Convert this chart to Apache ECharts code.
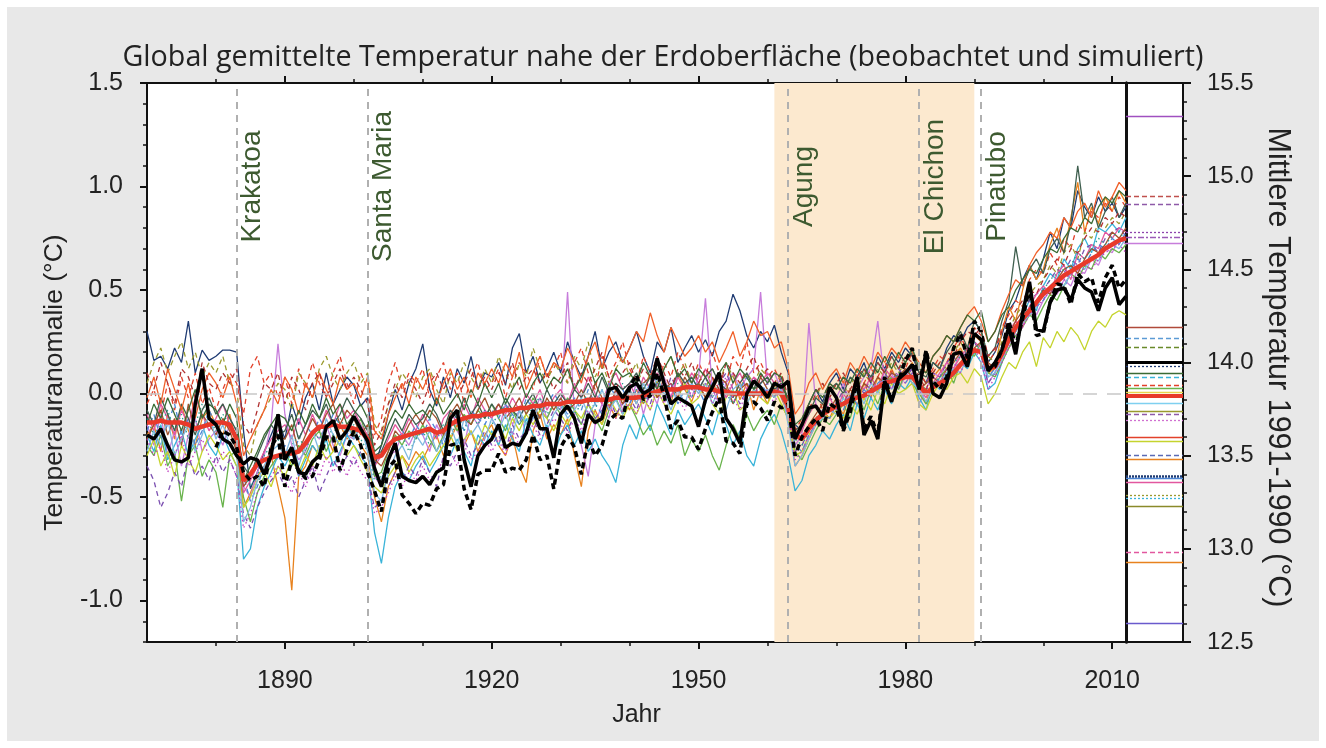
<!DOCTYPE html>
<html><head><meta charset="utf-8">
<script src="https://cdn.jsdelivr.net/npm/echarts@6.0.0/dist/echarts.min.js"></script>
<style>
html,body{margin:0;padding:0;background:#fff;width:1326px;height:748px;overflow:hidden}
#bg{position:absolute;left:7px;top:7px;width:1312px;height:734px;background:#e8e8e8}
#chart{position:absolute;left:0;top:0;width:1326px;height:748px}
</style></head><body><div id="bg"></div><div id="chart"></div>
<script>
// ---------------- DATA ----------------
const startYear = 1870;   // annual values 1870..2012
const xMajorTicks = [1890, 1920, 1950, 1980, 2010];
const xMinorTicks = [1880, 1900, 1910, 1930, 1940, 1960, 1970, 1990, 2000];
const yLeftTicks = [-1.0, -0.5, 0.0, 0.5, 1.0, 1.5];
const volcanoNames = ['Krakatoa', 'Santa Maria', 'Agung', 'El Chichon', 'Pinatubo'];
const volcanoYears = [1883, 1902, 1963, 1982, 1991];
const refPeriod = [1961, 1990];

const modelMean = [
-.14,-.14,-.13,-.14,-.14,-.14,-.15,-.17,-.16,-.15,
-.14,-.14,-.15,-.22,-.42,-.39,-.34,-.32,-.31,-.30,
-.29,-.29,-.28,-.24,-.19,-.16,-.16,-.15,-.16,-.16,
-.17,-.18,-.22,-.31,-.30,-.25,-.22,-.21,-.20,-.19,
-.18,-.17,-.19,-.18,-.15,-.13,-.12,-.11,-.11,-.10,
-.10,-.09,-.08,-.08,-.07,-.07,-.06,-.06,-.05,-.05,
-.05,-.04,-.04,-.04,-.03,-.03,-.03,-.03,-.02,-.02,
-.02,-.02,-.01,0,.01,.02,.02,.02,.03,.03,
.03,.02,.02,.01,.01,0,0,0,0,0,
0,.01,0,-.06,-.20,-.22,-.17,-.13,-.10,-.08,
-.06,-.05,-.03,-.02,-.01,.01,.03,.05,.06,.07,
.08,.08,.04,0,.03,.05,.07,.10,.14,.18,
.21,.20,.12,.13,.19,.26,.32,.36,.40,.44,
.48,.51,.54,.57,.59,.61,.63,.65,.67,.70,
.72,.74,.75];

const obsSolid = [
-.20,-.22,-.17,-.25,-.32,-.33,-.31,-.05,.12,-.12,
-.15,-.22,-.24,-.30,-.34,-.31,-.32,-.39,-.30,-.10,
-.32,-.26,-.38,-.39,-.33,-.30,-.16,-.13,-.22,-.18,
-.11,-.17,-.23,-.36,-.45,-.32,-.24,-.40,-.42,-.43,
-.40,-.44,-.38,-.36,-.12,-.08,-.32,-.45,-.30,-.25,
-.22,-.15,-.26,-.24,-.25,-.19,-.08,-.17,-.17,-.31,
-.10,-.06,-.12,-.24,-.10,-.14,-.12,.02,.03,-.02,
.03,.05,0,.02,.17,.05,-.05,-.02,-.04,-.06,
-.16,-.03,.03,.10,-.12,-.17,-.24,0,.06,.03,
-.02,.05,.03,.06,-.22,-.15,-.07,-.06,-.11,.03,
-.02,-.17,-.05,.08,-.20,-.13,-.22,.06,-.04,.07,
.10,.14,.02,.20,0,-.02,.05,.19,.20,.13,
.29,.26,.11,.15,.21,.32,.19,.39,.54,.31,
.30,.44,.50,.51,.45,.55,.51,.49,.40,.51,
.56,.43,.47];

const obsDashed = [
null,null,null,null,null,null,null,null,null,null,
-.26,-.18,-.20,-.26,-.38,-.42,-.40,-.45,-.26,-.20,
-.45,-.32,-.37,-.41,-.40,-.32,-.21,-.21,-.37,-.27,
-.18,-.25,-.38,-.47,-.57,-.36,-.32,-.49,-.53,-.58,
-.53,-.54,-.46,-.44,-.25,-.24,-.46,-.56,-.39,-.37,
-.37,-.29,-.38,-.36,-.37,-.32,-.20,-.32,-.30,-.46,
-.26,-.20,-.26,-.39,-.22,-.30,-.25,-.13,-.10,-.12,
.03,.09,-.03,-.01,.10,-.01,-.17,-.13,-.21,-.21,
-.27,-.17,-.09,-.02,-.23,-.24,-.29,-.05,-.04,-.07,
-.13,-.04,-.07,-.05,-.30,-.21,-.16,-.12,-.18,-.05,
-.07,-.18,-.09,.06,-.17,-.11,-.20,.08,-.03,.06,
.16,.22,.04,.21,.06,.02,.08,.22,.29,.17,
.35,.30,.12,.13,.21,.35,.23,.36,.51,.28,
.29,.44,.53,.52,.43,.58,.54,.56,.44,.56,
.62,.51,.55];

const model01 = [
.30,.16,.18,.12,.22,.15,.35,.10,.21,.16,
.18,.21,.21,.20,-.18,-.46,-.38,-.28,-.20,-.12,
-.22,-.05,-.15,-.02,.05,-.08,.10,-.05,.02,.08,
.04,-.06,-.02,-.35,-.25,-.10,.02,-.08,.05,.12,
.24,.02,-.06,.08,-.02,.12,.05,.18,.02,.10,
.08,.15,.04,.22,.29,.10,.18,.05,.12,.20,
.10,.25,.15,.08,.18,.30,.12,.20,.25,.15,
.22,.30,.18,.10,.25,.20,.32,.15,.22,.28,
.20,.26,.18,.30,.35,.48,.40,.28,.22,.30,
.25,.33,.20,.10,-.15,-.18,-.05,.02,-.04,.05,
.10,.02,.12,.08,.15,.05,.18,.12,.20,.15,
.22,.18,.10,.05,.15,.12,.22,.28,.25,.32,
.35,.30,.15,.20,.28,.40,.45,.55,.62,.55,
.65,.78,.70,.85,.80,.98,.90,.85,.95,.88,
.92,.85,.90];
const model02 = [
-.20,-.15,-.28,-.10,-.22,-.05,-.18,-.25,-.12,-.08,
-.15,-.20,-.10,-.25,-.55,-.48,-.40,-.35,-.30,-.45,
-.60,-.95,-.40,-.35,-.25,-.30,-.20,-.28,-.15,-.22,
-.18,-.25,-.30,-.50,-.62,-.45,-.38,-.30,-.35,-.28,
-.32,-.25,-.20,-.30,-.22,-.15,-.25,-.18,-.28,-.20,
-.15,-.25,-.30,-.20,-.35,-.43,-.18,-.10,-.22,-.15,
-.20,-.12,-.30,-.45,-.18,-.08,-.15,-.05,-.12,-.02,
-.08,.02,-.05,.05,-.02,.08,-.05,.10,.02,-.04,
.05,-.02,.08,-.05,.02,.10,-.03,.05,-.08,.02,
-.05,.05,-.02,-.10,-.35,-.30,-.22,-.15,-.08,-.12,
-.05,-.10,0,-.06,.05,-.02,.08,.02,.12,.05,
.10,.15,.02,-.05,.08,.12,.05,.18,.22,.15,
.28,.25,.10,.12,.30,.42,.35,.50,.62,.55,
.60,.72,.80,.68,.85,1.02,.78,.90,.82,.95,
.88,.98,.92];
const model03 = [
-.05,.02,-.10,.05,-.08,.08,-.02,.10,-.05,.03,
-.08,.02,.10,.05,-.10,.12,.18,.05,.10,-.02,
.08,-.05,.12,.02,.15,.05,-.02,.10,.18,.05,
-.05,.10,.02,-.20,-.12,.05,.15,.02,.10,.05,
.12,-.02,.08,.15,.02,.10,-.05,.08,.15,.02,
.05,.12,-.02,.08,.15,.10,.02,.18,.08,.12,
.20,.05,.15,.22,.10,.02,.18,.08,.15,.25,
.12,.05,.18,.10,.02,.15,.08,.20,.12,.05,
.15,.08,.20,.10,.05,.18,.12,.25,.10,.15,
.08,.12,.05,-.08,-.18,-.12,-.05,.02,-.08,.05,
.02,.08,-.02,.10,.05,.12,.08,.15,.10,.18,
.12,.20,.10,.05,.12,.18,.15,.22,.28,.20,
.32,.28,.15,.20,.32,.38,.45,.42,.55,.60,
.58,.68,.62,.75,.70,.82,.78,.88,.85,.92,
.88,.95,.90];
const model04 = [
-.15,-.25,-.10,-.30,-.18,-.35,-.20,-.12,-.28,-.22,
-.18,-.25,-.15,-.20,-.45,-.50,-.38,-.30,-.15,.24,
-.10,-.25,-.32,-.28,-.18,-.22,-.15,-.25,-.30,-.20,
-.22,-.15,-.25,-.40,-.45,-.30,-.28,-.20,-.25,-.18,
-.20,-.28,-.15,-.22,-.12,-.18,-.25,-.10,-.15,-.08,
-.12,-.18,-.05,-.15,-.08,-.20,-.10,-.02,-.12,-.05,
-.08,.49,-.10,-.25,-.40,-.15,-.05,-.12,.02,-.08,
-.05,.05,-.10,.02,-.05,.08,-.02,.10,.05,-.02,
.08,.46,.02,-.05,.05,.10,.02,.08,.12,.49,
.05,.10,.02,-.08,-.25,-.20,.34,-.05,-.10,.02,
-.02,.05,-.05,.02,.08,.12,.35,.05,.10,.02,
.08,.12,-.05,.02,.10,.08,.15,.12,.20,.18,
.25,.20,.05,.10,.18,.22,.30,.35,.42,.38,
.45,.50,.48,.55,.52,.60,.58,.65,.62,.70,
.68,.75,.72];
const model05 = [
-.20,-.28,-.15,-.32,-.25,-.18,-.30,-.22,-.15,-.25,
-.30,-.20,-.28,-.35,-.80,-.75,-.55,-.45,-.38,-.30,
-.35,-.28,-.40,-.32,-.25,-.30,-.22,-.35,-.28,-.20,
-.25,-.30,-.35,-.67,-.82,-.60,-.45,-.38,-.42,-.35,
-.30,-.38,-.32,-.25,-.30,-.22,-.28,-.35,-.20,-.25,
-.18,-.25,-.15,-.22,-.28,-.12,-.20,-.25,-.15,-.30,
-.20,-.15,-.25,-.18,-.28,-.22,-.30,-.35,-.43,-.25,
-.15,-.22,-.10,-.18,-.05,-.12,-.20,-.08,-.15,-.10,
-.05,-.12,-.20,-.08,-.15,-.25,-.18,-.30,-.35,-.22,
-.15,-.10,-.18,-.30,-.47,-.42,-.30,-.25,-.18,-.22,
-.15,-.10,-.18,-.05,-.12,-.02,-.08,.02,-.05,.05,
.02,.08,-.02,-.08,.05,.02,.10,.08,.15,.12,
.20,.15,.02,.05,.15,.25,.30,.38,.45,.40,
.52,.58,.55,.65,.60,.70,.75,.68,.80,.78,
.82,.78,.85];
const model06 = [
-.25,-.30,-.20,-.35,-.28,-.52,-.30,-.25,-.40,-.32,
-.38,-.55,-.30,-.28,-.50,-.62,-.48,-.40,-.35,-.30,
-.28,-.35,-.25,-.30,-.22,-.18,-.28,-.20,-.25,-.15,
-.20,-.12,-.22,-.40,-.38,-.28,-.20,-.25,-.18,-.22,
-.15,-.22,-.28,-.20,-.12,-.18,-.10,-.15,-.08,-.12,
-.05,-.12,-.18,-.08,-.15,-.10,-.02,-.08,-.12,-.05,
-.10,-.02,-.08,-.15,-.05,-.12,-.18,-.08,-.02,-.10,
-.05,-.12,-.20,-.15,-.25,-.18,-.24,-.15,-.30,-.22,
-.28,-.20,-.30,-.37,-.25,-.15,-.22,-.10,-.18,-.12,
-.08,-.15,-.05,-.12,-.28,-.32,-.25,-.18,-.12,-.15,
-.10,-.05,-.12,0,-.08,.02,-.05,.05,.08,.02,
.10,.05,0,-.05,.02,.08,.12,.05,.15,.20,
.18,.25,.10,.08,.15,.22,.28,.32,.38,.35,
.42,.48,.45,.52,.58,.55,.62,.60,.68,.65,
.70,.68,.72];
const model07 = [
-.30,-.22,-.35,-.28,-.40,-.25,-.32,-.38,-.28,-.20,
-.25,-.32,-.28,-.35,-.55,-.50,-.42,-.38,-.45,-.35,
-.40,-.32,-.38,-.30,-.35,-.25,-.32,-.28,-.22,-.30,
-.25,-.32,-.38,-.45,-.48,-.40,-.35,-.30,-.38,-.32,
-.28,-.35,-.30,-.25,-.20,-.28,-.22,-.18,-.25,-.15,
-.20,-.15,-.22,-.12,-.18,-.10,-.15,-.08,-.12,-.18,
-.10,-.15,-.08,-.12,-.05,-.10,-.15,-.02,-.08,-.12,
-.05,-.10,-.02,-.08,.02,-.05,-.10,-.02,.05,-.05,
-.02,.05,-.05,-.10,-.02,.02,-.08,-.05,.02,-.02,
-.05,.02,-.05,-.12,-.30,-.28,-.20,-.15,-.10,-.12,
-.08,-.12,-.05,-.10,-.02,-.08,.02,-.05,.05,0,
.02,.05,-.05,-.08,0,.05,.02,.08,.10,.05,
.12,.08,-.05,0,.08,.15,.12,.20,.25,.13,
.27,.22,.30,.25,.32,.28,.21,.30,.35,.32,
.38,.40,.38];
const model08 = [
.05,.15,.22,.10,.18,.25,.12,.20,.08,.15,
.10,.18,.05,.02,-.25,-.30,-.15,-.08,-.02,.05,
.02,-.08,.10,.05,-.02,.12,.18,.08,.02,.10,
.15,.05,.10,-.15,-.20,-.05,.02,.10,.05,-.02,
.08,.12,.02,-.05,.10,.05,.15,.08,.02,.12,
.05,.18,.10,.02,.15,.08,.22,.12,.05,.15,
.10,.05,.18,.12,.25,.08,.15,.05,.12,.18,
.08,.15,.02,.10,.05,.12,.18,.08,.15,.05,
.10,.02,.12,.05,.15,.08,.02,.10,.05,.12,
.08,.02,.10,-.05,-.22,-.18,-.08,-.02,.05,-.02,
.05,-.02,.08,.02,.10,.05,.12,.08,.15,.10,
.15,.12,.05,.02,.10,.15,.12,.20,.25,.18,
.28,.30,.18,.15,.25,.30,.38,.42,.48,.52,
.55,.62,.58,.68,.72,.65,.78,.75,.82,.80,
.85,.82,.88];
const model09 = [
-.35,-.42,-.55,-.48,-.38,-.45,-.30,-.40,-.35,-.42,
-.30,-.38,-.32,-.40,-.58,-.65,-.55,-.48,-.42,-.38,
-.45,-.40,-.50,-.42,-.35,-.48,-.40,-.32,-.38,-.30,
-.35,-.28,-.40,-.55,-.52,-.45,-.38,-.42,-.35,-.40,
-.32,-.38,-.45,-.30,-.35,-.28,-.22,-.30,-.25,-.18,
-.25,-.20,-.28,-.15,-.22,-.18,-.12,-.20,-.15,-.08,
-.12,-.18,-.10,-.15,-.05,-.12,-.08,-.02,-.10,-.05,
-.02,-.08,.02,-.05,.05,-.02,.08,.02,-.05,.05,
.02,.08,-.02,.05,.10,.02,-.05,.02,.08,.02,
.05,-.02,.08,-.10,-.28,-.25,-.18,-.12,-.08,-.02,
-.05,.02,-.02,.05,0,.08,.02,.10,.05,.12,
.08,.12,.02,.05,.10,.08,.15,.18,.12,.22,
.25,.18,.05,.10,.20,.28,.32,.38,.45,.48,
.50,.55,.60,.58,.65,.62,.70,.72,.68,.75,
.78,.80,.76];
const model10 = [
-.10,-.18,-.05,-.12,-.20,-.08,-.15,-.02,-.10,-.18,
-.12,-.05,-.15,-.22,-.48,-.42,-.35,-.28,-.22,-.18,
-.15,-.22,-.12,-.20,-.10,-.18,-.08,-.15,-.05,-.12,
-.08,-.15,-.20,-.35,-.30,-.22,-.15,-.20,-.12,-.18,
-.10,-.15,-.22,-.12,-.08,-.15,-.05,-.12,-.02,-.08,
-.12,-.05,-.10,-.02,-.08,0,-.05,.02,-.08,-.02,
.02,-.05,.05,-.02,.08,0,-.05,.05,.10,.02,
.05,-.02,.08,.02,.10,.05,-.02,.08,.02,.10,
.05,.12,.02,.08,-.02,.05,.10,.02,.08,.05,
.10,.05,.02,-.05,-.22,-.18,-.10,-.05,-.12,-.02,
-.08,0,-.05,.05,.02,.08,.02,.12,.08,.05,
.12,.08,.02,-.02,.05,.10,.15,.12,.18,.22,
.25,.22,.12,.15,.22,.30,.35,.32,.42,.48,
.52,.48,.58,.62,.55,.68,.65,.72,.70,.78,
.75,.80,.78];
const model11 = [
-.18,-.10,-.22,-.15,-.05,-.20,-.12,-.25,-.18,-.08,
-.15,-.22,-.12,-.18,-.40,-.52,-.45,-.35,-.28,-.32,
-.25,-.30,-.22,-.15,-.20,-.12,-.18,-.10,-.15,-.20,
-.12,-.18,-.25,-.38,-.42,-.30,-.25,-.18,-.22,-.15,
-.20,-.12,-.18,-.25,-.15,-.10,-.18,-.08,-.12,-.15,
-.08,-.12,-.05,-.10,-.15,-.02,-.08,-.12,-.05,0,
-.05,-.10,-.02,-.08,.02,-.05,-.10,.05,-.02,.02,
-.05,.02,-.02,.05,.08,-.02,.05,-.05,.02,.08,
.02,-.05,.05,.08,.02,-.05,.02,.08,-.02,.05,
0,.05,-.02,-.08,-.25,-.28,-.20,-.15,-.10,-.12,
-.05,-.08,0,-.05,.02,-.02,.05,.08,.02,.10,
.05,.10,.05,0,.02,.08,.05,.12,.15,.20,
.22,.18,.08,.12,.18,.25,.30,.35,.38,.42,
.45,.52,.55,.50,.60,.65,.62,.68,.72,.70,
.75,.72,.78];
const model12 = [
-.22,-.15,-.08,-.20,-.12,-.25,-.05,-.18,-.10,-.15,
-.20,-.12,-.18,-.28,-.45,-.40,-.32,-.38,-.25,-.20,
-.22,-.15,-.28,-.20,-.12,-.18,-.10,-.05,-.15,-.08,
-.12,-.20,-.15,-.32,-.35,-.28,-.18,-.22,-.15,-.10,
-.15,-.08,-.12,-.20,-.10,-.05,-.12,-.15,-.08,-.02,
-.10,-.05,-.12,-.08,-.02,-.10,-.05,-.12,-.02,-.08,
-.02,-.08,-.05,.02,-.05,.05,-.02,-.08,.02,-.05,
.02,-.05,.05,.08,-.02,.02,.05,-.02,.08,.02,
.05,-.02,.02,.08,.05,-.05,.02,.05,-.02,.08,
.02,-.02,.05,-.05,-.18,-.22,-.15,-.10,-.05,-.08,
-.02,-.05,.02,-.02,.05,.02,.08,.05,.10,.08,
.12,.08,.02,.05,.08,.05,.12,.15,.20,.15,
.22,.25,.15,.12,.20,.28,.35,.40,.38,.45,
.50,.48,.55,.60,.62,.58,.65,.70,.68,.72,
.78,.75,.80];
const model13 = [
-.12,-.20,-.15,-.08,-.18,-.10,-.22,-.15,-.05,-.12,
-.18,-.10,-.15,-.20,-.38,-.45,-.40,-.30,-.25,-.22,
-.30,-.25,-.20,-.28,-.18,-.22,-.15,-.20,-.12,-.18,
-.15,-.22,-.28,-.42,-.40,-.32,-.25,-.20,-.28,-.22,
-.18,-.25,-.20,-.15,-.22,-.12,-.18,-.10,-.15,-.08,
-.15,-.10,-.05,-.12,-.08,-.15,-.05,-.02,-.10,-.05,
-.08,-.02,-.10,-.05,0,-.08,.02,-.05,-.02,.05,
-.02,.02,-.05,.02,.05,0,-.03,.05,.02,-.02,
.05,.02,-.02,.05,0,-.05,.02,-.02,.05,.02,
-.02,.05,.02,-.08,-.22,-.25,-.18,-.12,-.08,-.05,
-.08,-.02,-.05,.02,-.02,.05,.02,.08,.05,.10,
.08,.12,.05,.02,.05,.08,.10,.15,.18,.22,
.25,.20,.10,.15,.22,.28,.32,.38,.42,.45,
.50,.55,.58,.60,.62,.68,.65,.70,.75,.72,
.76,.78,.74];
const model14 = [
-.08,-.15,-.02,-.10,-.18,-.05,-.12,-.20,-.08,-.02,
-.10,-.05,-.12,-.18,-.35,-.40,-.30,-.22,-.15,-.20,
-.18,-.10,-.22,-.15,-.08,-.12,-.05,-.15,-.10,-.02,
-.08,-.12,-.18,-.30,-.28,-.20,-.12,-.18,-.10,-.15,
-.12,-.05,-.10,-.18,-.08,-.12,-.02,-.10,-.05,-.12,
-.05,-.10,-.02,-.08,-.12,-.05,0,-.08,.02,-.05,
0,-.05,.02,-.02,.05,-.02,.08,0,.05,.02,
.05,.10,.02,.08,.12,.05,.02,.10,.05,.08,
.02,.08,.12,.05,.02,-.02,.05,.10,.02,.05,
.08,.02,.05,-.02,-.18,-.15,-.10,-.02,-.05,.02,
.05,0,.08,.05,.12,.08,.15,.10,.18,.12,
.15,.20,.10,.08,.15,.12,.20,.25,.30,.22,
.35,.30,.18,.22,.35,.45,.71,.52,.60,.65,
.58,.70,.75,.68,.82,1.10,.85,.92,.80,.88,
.95,.85,.92];
const model15 = [
-.02,.08,-.05,.12,.02,-.08,.05,-.12,.02,.10,
.05,-.02,.08,-.05,-.30,-.22,-.15,-.08,.02,-.05,
.08,.02,-.10,.05,-.02,.10,.02,-.05,.08,.02,
.05,-.02,.08,-.18,-.22,-.10,-.02,.05,-.05,.08,
.02,.10,-.05,.05,.12,.02,.08,-.02,.10,.05,
.12,.05,.15,.08,.20,.02,.10,.18,.08,.15,
.12,.22,.15,.05,.18,.25,.12,.28,.20,.15,
.22,.30,.25,.39,.28,.20,.32,.25,.18,.22,
.28,.20,.25,.15,.22,.30,.18,.25,.35,.28,
.30,.22,.25,.12,-.10,-.05,.05,.10,.02,.08,
.12,.05,.15,.10,.18,.12,.20,.15,.22,.18,
.25,.20,.15,.10,.18,.22,.28,.25,.32,.38,
.42,.35,.25,.30,.40,.48,.55,.52,.62,.68,
.72,.78,.75,.85,.80,.88,.92,.85,.98,.90,
.95,1.02,.98];
const model16 = [
-.28,-.18,-.25,-.12,-.30,-.22,-.15,-.28,-.20,-.10,
-.22,-.15,-.25,-.30,-.62,-.55,-.42,-.35,-.28,-.25,
-.30,-.20,-.35,-.25,-.18,-.28,-.12,-.20,-.25,-.15,
-.22,-.15,-.28,-.48,-.52,-.38,-.30,-.25,-.32,-.20,
-.25,-.18,-.28,-.22,-.15,-.25,-.12,-.20,-.15,-.22,
-.12,-.18,-.10,-.20,-.08,-.15,-.12,-.05,-.18,-.10,
-.05,-.12,-.08,-.02,-.10,-.05,.02,-.08,-.03,-.10,
.02,-.05,.05,-.02,.08,0,-.08,.02,-.05,.05,
0,.05,-.05,.02,-.08,.02,.05,-.05,.02,-.02,
.02,-.02,.02,-.15,-.35,-.30,-.22,-.15,-.12,-.08,
-.10,-.02,-.08,.02,-.05,.05,0,.08,.02,.06,
.10,.05,.02,-.04,.02,.06,.10,.12,.10,.18,
.20,.22,.08,.10,.16,.24,.30,.34,.38,.42,
.48,.50,.55,.52,.58,.62,.60,.66,.64,.70,
.72,.70,.75];
const model17 = [
.10,.02,.15,.05,-.05,.12,.08,-.02,.15,.05,
.02,.10,.05,.12,-.15,-.20,-.08,.05,.02,.10,
-.05,.08,.02,-.08,.05,.10,-.02,.05,.12,.02,
.08,.02,-.05,-.25,-.18,-.05,.05,-.02,.08,.02,
-.05,.05,.10,.02,.08,-.02,.05,.12,.02,.08,
.02,.10,.05,.15,.02,.08,.12,.05,.10,.02,
.08,.15,.02,.10,.05,.12,.20,.08,.02,.10,
.15,.05,.12,.08,.18,.10,.02,.12,.08,.15,
.05,.12,.08,.02,.15,.10,.05,.12,.18,.08,
.12,.05,.10,-.02,-.20,-.15,-.08,0,.05,-.02,
.05,.10,.02,.08,.12,.05,.15,.10,.18,.12,
.18,.15,.08,.02,.10,.15,.20,.18,.25,.30,
.28,.32,.18,.22,.30,.35,.40,.45,.50,.48,
.55,.60,.65,.62,.70,.68,.75,.80,.78,.85,
.82,.88,.85];
const model18 = [
-.22,-.30,-.25,-.38,-.30,-.20,-.35,-.28,-.22,-.30,
-.35,-.28,-.32,-.40,-.65,-.58,-.48,-.42,-.40,-.35,
-.42,-.48,-.38,-.45,-.35,-.40,-.30,-.38,-.32,-.40,
-.30,-.38,-.42,-.58,-.55,-.48,-.40,-.45,-.38,-.42,
-.35,-.42,-.38,-.32,-.28,-.35,-.25,-.32,-.28,-.22,
-.28,-.22,-.30,-.18,-.25,-.20,-.15,-.22,-.18,-.12,
-.15,-.20,-.12,-.18,-.08,-.15,-.10,-.05,-.12,-.08,
-.05,-.10,0,-.08,.02,-.05,.05,-.02,-.08,.02,
-.02,.05,-.05,.02,.08,-.02,-.08,.02,.05,-.02,
.02,-.05,.05,-.12,-.32,-.28,-.20,-.15,-.10,-.05,
-.08,0,-.05,.02,-.02,.05,.02,.08,.02,.10,
.05,.10,0,.02,.08,.05,.12,.15,.10,.18,
.22,.15,.02,.08,.15,.22,.28,.32,.38,.42,
.45,.50,.48,.55,.58,.52,.62,.60,.65,.68,
.70,.72,.68];
const model19 = [
-.15,-.05,-.12,-.02,-.10,-.18,-.08,.02,-.12,-.05,
-.08,-.15,-.05,-.12,-.42,-.35,-.28,-.20,-.15,-.10,
-.12,-.18,-.08,-.15,-.05,-.12,-.02,-.10,-.05,-.15,
-.10,-.05,-.12,-.28,-.25,-.15,-.08,-.12,-.05,-.10,
-.08,-.12,-.02,-.10,-.05,0,-.08,.02,-.05,.05,
-.02,.05,-.05,.02,.08,-.02,.05,.10,.02,.08,
.05,.12,.02,.08,.15,.05,.10,.02,.12,.08,
.10,.05,.15,.08,.02,.12,.18,.08,.12,.05,
.12,.08,.02,.10,.15,.05,.12,.08,.02,.10,
.05,.10,.08,-.05,-.15,-.12,-.05,.02,-.02,.05,
.02,.08,.05,.12,.08,.15,.10,.18,.12,.20,
.15,.22,.12,.10,.18,.22,.28,.25,.32,.38,
.35,.40,.25,.30,.38,.42,.50,.55,.60,.58,
.65,.70,.68,.75,.80,.78,.85,.82,.90,.95,
.92,.98,.95];

// right panel: absolute mean temperature 1961-1990 of each simulation/observation
const panelTemps = [15.32,14.89,14.85,14.70,14.67,14.64,14.19,14.13,14.08,14.00,13.98,13.94,13.92,13.88,13.86,13.84,13.82,13.78,13.74,13.72,13.69,13.60,13.58,13.50,13.48,13.39,13.38,13.36,13.29,13.27,13.23,12.98,12.93,12.60];

// ---------------- STYLES ----------------
const models = [model01,model02,model03,model04,model05,model06,model07,model08,model09,model10,model11,model12,model13,model14,model15,model16,model17,model18,model19];
const modelColors = ['#1f3b73','#e8821e','#e2412b','#c77ddb','#3ab4d9','#69b34c','#c5d42e','#9a9a2e','#7b4fb0','#e2579f','#4d86d6','#a0522d','#2a9d8f','#3f5f4f','#f0602a','#7fb8e0','#b03030','#c040c0','#3a6b35'];
const modelDash = ['solid','solid',[5,4],'solid','solid','solid','solid',[5,4],[5,4],'solid',[5,4],'solid',[1.5,3],'solid','solid','solid',[5,4],[1.5,3],'solid'];
const panelColors = ['#a050c0','#c0504d','#8e5aa8','#8e44ad','#9b59b6','#c77ddb','#b04a3a','#5b9bd5','#6a8a2a','#000','#1f3b73','#3a6b35','#3ab4d9','#e2412b','#69b34c','#e8d44d','#e8392a','#7fd0f0','#9a9a2e','#8e5aa8','#d070d0','#e2412b','#c5d42e','#5b6bb5','#e8821e','#1f3b73','#4d86d6','#e2579f','#9a9a2e','#3ab4d9','#8a8a2a','#e2579f','#e8821e','#6a5acd'];
const panelDash = ['solid',[5,3],[5,3],[2,2],[6,2,2,2],'solid','solid',[5,3],[5,3],'solid',[2,2],'solid',[5,3],[5,3],'solid','solid','solid','solid','solid',[5,3],[2,2],'solid','solid',[5,3],'solid',[2,1],'solid','solid',[2,2],[2,2],'solid',[5,3],'solid','solid'];
const panelWidth = panelTemps.map((_, i) => i === 9 ? 3 : (i === 16 ? 4 : (i === 25 ? 2.5 : 1.3)));

const FONT = '"Liberation Sans", Arial, sans-serif';
const years = modelMean.map((_, i) => startYear + i);
const toXY = arr => arr.map((v, i) => [years[i], v]);

const chart = echarts.init(document.getElementById('chart'), null, {renderer: 'canvas'});

const series = [];
series.push({
  type: 'line', xAxisIndex: 0, yAxisIndex: 0, data: [], z: 1, silent: true,
  markArea: {silent: true, itemStyle: {color: '#fce9cf'}, data: [[{xAxis: refPeriod[0]}, {xAxis: refPeriod[1]}]]},
  markLine: {silent: true, symbol: 'none', label: {show: false}, animation: false,
    data: [{yAxis: 0, lineStyle: {color: '#c8c8c8', type: [14, 10], width: 1.5}}]
      .concat(volcanoYears.map(y => ({xAxis: y, lineStyle: {color: '#b0b0b0', type: [7, 6], width: 2}})))}
});
models.forEach((m, i) => series.push({
  type: 'line', xAxisIndex: 0, yAxisIndex: 0, data: toXY(m), symbol: 'none', z: 2, silent: true,
  lineStyle: {color: modelColors[i], width: 1.3, type: modelDash[i]}
}));
series.push({type: 'line', xAxisIndex: 0, yAxisIndex: 0, data: toXY(modelMean), symbol: 'none', z: 3,
  lineStyle: {color: '#e8392a', width: 4.5}});
series.push({type: 'line', xAxisIndex: 0, yAxisIndex: 0, data: toXY(obsDashed), symbol: 'none', z: 4,
  lineStyle: {color: '#000', width: 3.5, type: [6, 4]}});
series.push({type: 'line', xAxisIndex: 0, yAxisIndex: 0, data: toXY(obsSolid), symbol: 'none', z: 5,
  lineStyle: {color: '#000', width: 3.5}});
series.push({
  type: 'line', xAxisIndex: 2, yAxisIndex: 3, data: [], silent: true,
  markLine: {silent: true, symbol: 'none', label: {show: false}, animation: false,
    data: panelTemps.map((t, i) => ({yAxis: t, lineStyle: {color: panelColors[i], type: panelDash[i], width: panelWidth[i]}}))}
});

const blackLine = w => ({show: true, onZero: false, lineStyle: {color: '#111', width: w}});
const hiddenLine = {show: false, onZero: false};
const noTick = {show: false};
const noLabel = {show: false};

chart.setOption({
  animation: false,
  backgroundColor: 'transparent',
  title: {text: 'Global gemittelte Temperatur nahe der Erdoberfläche (beobachtet und simuliert)', left: 'center', top: 38,
    textStyle: {fontFamily: '"Open Sans", sans-serif', fontWeight: 'normal', fontSize: 28.7, color: '#222'}},
  grid: [
    {left: 147, top: 83, width: 979, height: 559, show: true, backgroundColor: '#fff', borderWidth: 0},
    {left: 1126, top: 83, width: 57, height: 559, show: true, backgroundColor: '#fff', borderWidth: 0},
    {left: 147, top: 83, width: 979, height: 559}
  ],
  xAxis: [
    {gridIndex: 0, type: 'value', min: 1870, max: 2012, position: 'bottom', axisLine: blackLine(2),
      axisTick: {show: true, customValues: xMajorTicks, length: 7, lineStyle: {color: '#111', width: 2}},
      axisLabel: {customValues: xMajorTicks, formatter: v => String(v), fontSize: 25, color: '#222', fontFamily: FONT, margin: 27},
      splitLine: {show: false},
      name: 'Jahr', nameLocation: 'middle', nameGap: 61, nameTextStyle: {fontSize: 25, color: '#222', fontFamily: FONT}},
    {gridIndex: 0, type: 'value', min: 1870, max: 2012, position: 'top', axisLine: blackLine(2),
      axisTick: {show: true, customValues: xMajorTicks, length: 7, lineStyle: {color: '#111', width: 2}},
      axisLabel: noLabel, splitLine: {show: false}},
    {gridIndex: 1, type: 'value', min: 0, max: 1, position: 'bottom', axisLine: blackLine(2), axisTick: noTick, axisLabel: noLabel, splitLine: {show: false}},
    {gridIndex: 1, type: 'value', min: 0, max: 1, position: 'top', axisLine: blackLine(2), axisTick: noTick, axisLabel: noLabel, splitLine: {show: false}},
    {gridIndex: 2, type: 'value', min: 1870, max: 2012, position: 'bottom', axisLine: hiddenLine,
      axisTick: {show: true, customValues: xMinorTicks, length: 4, lineStyle: {color: '#111', width: 1.5}}, axisLabel: noLabel, splitLine: {show: false}},
    {gridIndex: 2, type: 'value', min: 1870, max: 2012, position: 'top', axisLine: hiddenLine,
      axisTick: {show: true, customValues: xMinorTicks, length: 4, lineStyle: {color: '#111', width: 1.5}}, axisLabel: noLabel, splitLine: {show: false}}
  ],
  yAxis: [
    {gridIndex: 0, type: 'value', min: -1.2, max: 1.5, position: 'left', axisLine: blackLine(2),
      axisTick: {show: true, customValues: yLeftTicks, length: 7, lineStyle: {color: '#111', width: 2}},
      axisLabel: {customValues: yLeftTicks, formatter: v => v.toFixed(1), fontSize: 25, color: '#222', fontFamily: FONT, margin: 24},
      splitLine: {show: false},
      name: 'Temperaturanomalie (°C)', nameLocation: 'middle', nameGap: 79, nameRotate: 90,
      nameTextStyle: {fontSize: 26.5, color: '#222', fontFamily: FONT, padding: [0, 40, 0, 0]}},
    {gridIndex: 0, type: 'value', min: -1.2, max: 1.5, position: 'right', axisLine: blackLine(3), axisTick: noTick, axisLabel: noLabel, splitLine: {show: false}},
    {gridIndex: 1, type: 'value', min: 12.5, max: 15.5, position: 'left', axisLine: blackLine(3), axisTick: noTick, axisLabel: noLabel, splitLine: {show: false}},
    {gridIndex: 1, type: 'value', min: 12.5, max: 15.5, interval: 0.5, position: 'right', axisLine: blackLine(2),
      axisTick: {show: true, length: 8, lineStyle: {color: '#111', width: 2}},
      minorTick: {show: true, splitNumber: 5, length: 4, lineStyle: {color: '#111', width: 1.5}},
      axisLabel: {formatter: v => v.toFixed(1), fontSize: 24, color: '#222', fontFamily: FONT, margin: 24},
      splitLine: {show: false},
      name: 'Mittlere Temperatur 1991-1990 (°C)', nameLocation: 'middle', nameGap: 79, nameRotate: -90,
      nameTextStyle: {fontSize: 30.5, color: '#222', fontFamily: FONT, padding: [0, 0, 0, 10]}},
    {gridIndex: 2, type: 'value', min: -1.2, max: 1.5, interval: 0.1, position: 'left', axisLine: hiddenLine,
      axisTick: {show: true, length: 4, lineStyle: {color: '#111', width: 1.5}}, axisLabel: noLabel, splitLine: {show: false}}
  ],
  series: series
});

// volcano labels, positioned through the main grid's scales
const labelY = 1.0;
chart.setOption({
  graphic: volcanoYears.map((yr, i) => {
    const p = chart.convertToPixel({xAxisIndex: 0, yAxisIndex: 0}, [yr, labelY]);
    return {type: 'text', x: p[0] + 16, y: p[1], rotation: Math.PI / 2, z: 100, silent: true,
      style: {text: volcanoNames[i], fill: '#3d5a30', font: '28px "Liberation Sans", Arial, sans-serif',
        textAlign: 'center', textVerticalAlign: 'middle'}};
  })
});
</script>
</body></html>
